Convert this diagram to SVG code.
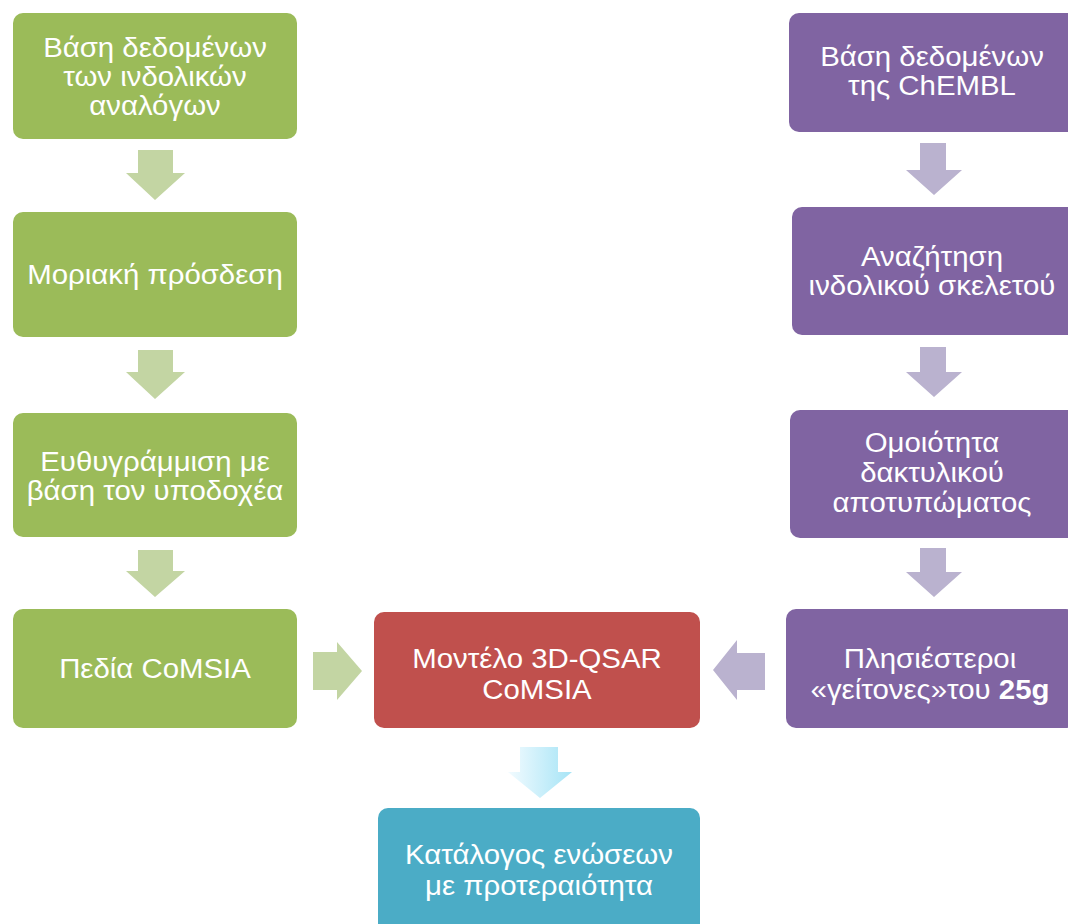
<svg xmlns="http://www.w3.org/2000/svg" width="1068" height="924" viewBox="0 0 1068 924">
<defs>
<style>
.t{font-family:"Liberation Sans",Arial,sans-serif;font-size:28px;fill:#ffffff;text-anchor:middle}
.g{fill:#9bbb59}
.p{fill:#8064a2}
.ga{fill:#c3d5a3}
.pa{fill:#bab2cf}
</style>
<linearGradient id="cy" x1="0" y1="0" x2="1" y2="0">
<stop offset="0" stop-color="#f2fbff"/>
<stop offset="1" stop-color="#a6e4f6"/>
</linearGradient>
</defs>
<rect width="1068" height="924" fill="#ffffff"/>
<g id="connectors">
<polygon class="ga" points="138,150 173,150 173,173 185,173 155,200 126,173 138,173"/>
<polygon class="ga" points="138,350 173,350 173,372 185,372 155,399 126,372 138,372"/>
<polygon class="ga" points="138,550 173,550 173,571 185,571 155,597 126,571 138,571"/>
<polygon class="pa" points="920,143 946,143 946,170 962,170 934,195 906,170 920,170"/>
<polygon class="pa" points="920,347 946,347 946,372 962,372 934,397 906,372 920,372"/>
<polygon class="pa" points="920,548 946,548 946,572 962,572 934,597 906,572 920,572"/>
<polygon class="ga" points="313,652 337,652 337,642 362,671 337,700 337,690 313,690"/>
<polygon class="pa" points="765,653 737,653 737,640 713,670 737,700 737,690 765,690"/>
<polygon fill="url(#cy)" points="520,747 558,747 558,772 572,772 540,798 508,772 520,772"/>
</g>
<g id="n1"><rect class="g" x="13" y="13" width="284" height="126" rx="10"/>
<g transform="translate(155 0) scale(1.05 1)"><text class="t" x="0" y="57">Βάση δεδομένων</text><text class="t" x="0" y="86">των ινδολικών</text><text class="t" x="0" y="115">αναλόγων</text></g></g>
<g id="n2"><rect class="g" x="13" y="212" width="284" height="125" rx="10"/>
<g transform="translate(155 0) scale(1.05 1)"><text class="t" x="0" y="284">Μοριακή πρόσδεση</text></g></g>
<g id="n3"><rect class="g" x="13" y="413" width="284" height="124" rx="10"/>
<g transform="translate(155 0) scale(1.05 1)"><text class="t" x="0" y="471">Ευθυγράμμιση με</text><text class="t" x="0" y="500">βάση τον υποδοχέα</text></g></g>
<g id="n4"><rect class="g" x="13" y="609" width="284" height="119" rx="10"/>
<g transform="translate(155 0) scale(1.05 1)"><text class="t" x="0" y="678">Πεδία CoMSIA</text></g></g>
<g id="p1"><rect class="p" x="789" y="13" width="290" height="119" rx="10"/>
<g transform="translate(932 0) scale(1.05 1)"><text class="t" x="0" y="66">Βάση δεδομένων</text><text class="t" x="0" y="95">της ChEMBL</text></g></g>
<g id="p2"><rect class="p" x="792" y="207" width="290" height="128" rx="10"/>
<g transform="translate(932 0) scale(1.05 1)"><text class="t" x="0" y="266">Αναζήτηση</text><text class="t" x="0" y="295">ινδολικού σκελετού</text></g></g>
<g id="p3"><rect class="p" x="790" y="410" width="290" height="128" rx="10"/>
<g transform="translate(932 0) scale(1.05 1)"><text class="t" x="0" y="452">Ομοιότητα</text><text class="t" x="0" y="482">δακτυλικού</text><text class="t" x="0" y="512">αποτυπώματος</text></g></g>
<g id="p4"><rect class="p" x="786" y="609" width="290" height="119" rx="10"/>
<g transform="translate(930 0) scale(1.05 1)"><text class="t" x="0" y="668">Πλησιέστεροι</text><text class="t" x="0" y="699">«γείτονες»του <tspan font-weight="bold">25g</tspan></text></g></g>
<g id="m"><rect fill="#c0504d" x="374" y="612" width="326" height="116" rx="10"/>
<g transform="translate(537 0) scale(1.05 1)"><text class="t" x="0" y="668">Μοντέλο 3D-QSAR</text><text class="t" x="0" y="699">CoMSIA</text></g></g>
<g id="c"><rect fill="#4bacc6" x="378" y="808" width="322" height="130" rx="10"/>
<g transform="translate(539 0) scale(1.05 1)"><text class="t" x="0" y="864">Κατάλογος ενώσεων</text><text class="t" x="0" y="895">με προτεραιότητα</text></g></g>
</svg>
